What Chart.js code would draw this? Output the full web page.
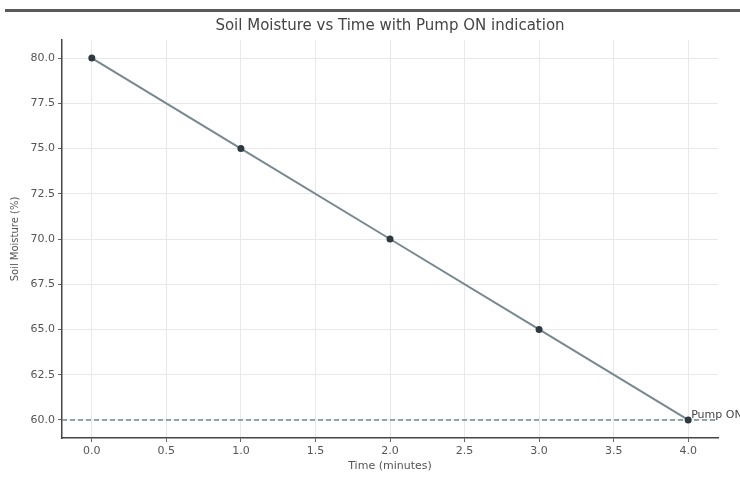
<!DOCTYPE html>
<html>
<head>
<meta charset="utf-8">
<script src="https://cdn.jsdelivr.net/npm/chart.js@4"></script>
<style>
  body { margin: 0; background: #fff; }
  #wrap { position: relative; width: 740px; height: 481px; }
  #topline { position: absolute; left: 5px; right: 0; top: 9px; height: 3px; background: #5a5a5a; }
</style>
</head>
<body>
<div id="wrap">
  <div id="topline"></div>
  <canvas id="moistChart" width="740" height="481"></canvas>
</div>
<script>
// dữ liệu
const timeMinutes = [0, 1, 2, 3, 4];
const soilMoisture = [80, 75, 70, 65, 60];
const pumpThreshold = 60;
const xTicks = [0, 0.5, 1, 1.5, 2, 2.5, 3, 3.5, 4];
const yTicks = [60, 62.5, 65, 67.5, 70, 72.5, 75, 77.5, 80];
const xRange = [-0.2, 4.2];
const yRange = [59, 81];

// nhãn "Pump ON" cạnh đường ngưỡng
const pumpLabel = {
    id: 'pumpLabel',
    afterDatasetsDraw(chart) {
        const ctx = chart.ctx;
        const x = chart.scales.x.getPixelForValue(timeMinutes[timeMinutes.length - 1]);
        const y = chart.scales.y.getPixelForValue(pumpThreshold);
        ctx.save();
        ctx.fillStyle = '#444';
        ctx.font = '11px "DejaVu Sans"';
        ctx.textBaseline = 'bottom';
        ctx.fillText('Pump ON', x + 3, y + 1);
        ctx.restore();
    }
};

const ctx = document.getElementById('moistChart').getContext('2d');
new Chart(ctx, {
    type: 'scatter',
    data: {
        datasets: [{
            label: 'Soil Moisture',
            data: timeMinutes.map((t, i) => ({ x: t, y: soilMoisture[i] })),
            showLine: true,
            borderColor: '#778891',
            borderWidth: 2,
            pointRadius: 2.5,
            pointBackgroundColor: '#2f3a40',
            pointBorderColor: '#2f3a40',
            order: 1
        }, {
            label: 'Pump ON threshold',
            data: xRange.map(t => ({ x: t, y: pumpThreshold })),
            showLine: true,
            borderColor: '#6f8a8f',
            borderWidth: 1.5,
            borderDash: [5, 3],
            pointRadius: 0,
            order: 2
        }]
    },
    options: {
        responsive: false,
        animation: false,
        layout: { padding: { left: 9, right: 22, top: 0, bottom: 8 } },
        plugins: {
            legend: { display: false },
            tooltip: { enabled: false },
            title: {
                display: true,
                text: 'Soil Moisture vs Time with Pump ON indication',
                color: '#444',
                fullSize: false,
                font: { family: '"DejaVu Sans"', size: 15, weight: 'normal' },
                padding: { top: 17, bottom: 5 }
            }
        },
        scales: {
            x: {
                type: 'linear',
                min: xRange[0],
                max: xRange[1],
                afterBuildTicks: s => { s.ticks = xTicks.map(v => ({ value: v })); },
                afterFit: s => { s.height = 35; },
                ticks: {
                    color: '#555',
                    font: { family: '"DejaVu Sans"', size: 11 },
                    padding: 3,
                    callback: v => v.toFixed(1)
                },
                grid: { color: '#e8e8e8', tickColor: '#666', tickLength: 4 },
                border: { color: '#444', width: 1.5 },
                title: {
                    display: true,
                    text: 'Time (minutes)',
                    color: '#555',
                    font: { family: '"DejaVu Sans"', size: 11 },
                    padding: { top: 0, bottom: 0 }
                }
            },
            y: {
                type: 'linear',
                min: yRange[0],
                max: yRange[1],
                afterBuildTicks: s => { s.ticks = yTicks.map(v => ({ value: v })); },
                afterFit: s => { s.width = 53; },
                ticks: {
                    color: '#555',
                    font: { family: '"DejaVu Sans"', size: 11 },
                    padding: 3,
                    callback: v => v.toFixed(1)
                },
                grid: { color: '#e8e8e8', tickColor: '#666', tickLength: 4 },
                border: { color: '#444', width: 1.5 },
                title: {
                    display: true,
                    text: 'Soil Moisture (%)',
                    color: '#555',
                    font: { family: '"DejaVu Sans"', size: 10 },
                    padding: { top: 0, bottom: 0 }
                }
            }
        }
    },
    plugins: [pumpLabel]
});
</script>
</body>
</html>
